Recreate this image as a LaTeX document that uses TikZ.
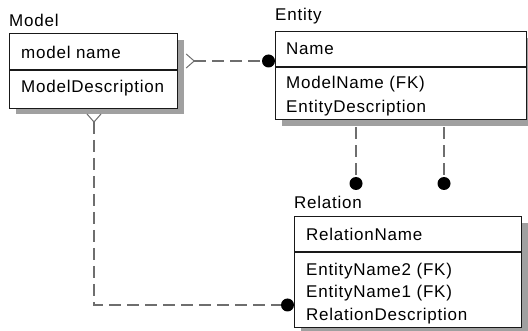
\documentclass[tikz,border=0pt]{standalone}
\usepackage{fontspec}
\setmainfont[LetterSpace=4.5]{Liberation Sans}
\usetikzlibrary{calc}
\definecolor{shade}{HTML}{A0A0A0}
\definecolor{connc}{HTML}{6E6E6E}
\begin{document}
\begin{tikzpicture}[x=1pt,y=-1pt,
  box/.style={draw=black!90, line width=1.2pt, fill=white, inner sep=0pt, anchor=north west},
  shade box/.style={fill=shade},
  divider/.style={draw=black!90, line width=1.2pt},
  txt/.style={anchor=west, inner sep=0pt, font=\fontsize{17}{20}\selectfont},
  conn/.style={draw=connc, line width=1.5pt, dash pattern=on 12pt off 6pt},
  diam/.style={draw=connc, line width=1pt},
  dot/.style={circle, fill=black, inner sep=0pt, minimum size=13pt}]
\useasboundingbox (0,0) rectangle (528,331);
% shadows
\fill[shade box] (16,40) rectangle (184,114);
\fill[shade box] (282,38) rectangle (533,126);
\fill[shade box] (301,223) rectangle (528,334);
% boxes
\node[box, minimum width=168pt, minimum height=75pt] (model) at (9,33) {};
\node[box, minimum width=251pt, minimum height=88pt] (entity) at (275,31) {};
\node[box, minimum width=227pt, minimum height=111pt] (relation) at (294,216) {};
\draw[divider] ([yshift=-37pt]model.north west) -- ([yshift=-37pt]model.north east);
\draw[divider] ([yshift=-36pt]entity.north west) -- ([yshift=-36pt]entity.north east);
\draw[divider] ([yshift=-36pt]relation.north west) -- ([yshift=-36pt]relation.north east);
% titles
\node[txt] (mtitle) at (9,20) {Model};
\node[txt] (etitle) at (275,16) {Entity};
\node[txt] (rtitle) at (294,202) {Relation};
% attributes
\node[txt] (m1) at (21,52) {model name};
\node[txt] (m2) at (21,88) {ModelDescription};
\node[txt] (e1) at (286,49) {Name};
\node[txt] (e2) at (286,84) {ModelName (FK)};
\node[txt] (e3) at (286,108) {EntityDescription};
\node[txt] (r1) at (306,234) {RelationName};
\node[txt] (r2) at (306,271) {EntityName2 (FK)};
\node[txt] (r3) at (306,293) {EntityName1 (FK)};
\node[txt] (r4) at (306,316) {RelationDescription};
% dots
\node[dot] (d1) at (268.5,61) {};
\node[dot] (d2) at (356,183.5) {};
\node[dot] (d3) at (444,183.5) {};
\node[dot] (d4) at (287.5,305) {};
% connector model -> entity
\coordinate (mr) at (model.north east |- d1);
\draw[diam] ([xshift=8pt,yshift=7pt]mr) -- ([xshift=16pt]mr) -- ([xshift=8pt,yshift=-7pt]mr);
\draw[conn] ([xshift=16pt]mr) -- (d1.west);
% connectors entity -> relation
\draw[conn] ([yshift=-7pt]entity.south -| d2) -- (d2.north);
\draw[conn] ([yshift=-7pt]entity.south -| d3) -- (d3.north);
% connector model -> relation
\coordinate (mb) at (94,108);
\draw[diam] ([xshift=-7pt,yshift=-6pt]mb) -- ([yshift=-14pt]mb) -- ([xshift=7pt,yshift=-6pt]mb);
\draw[conn] ([yshift=-14pt]mb) |- (d4.west);
\end{tikzpicture}
\end{document}
